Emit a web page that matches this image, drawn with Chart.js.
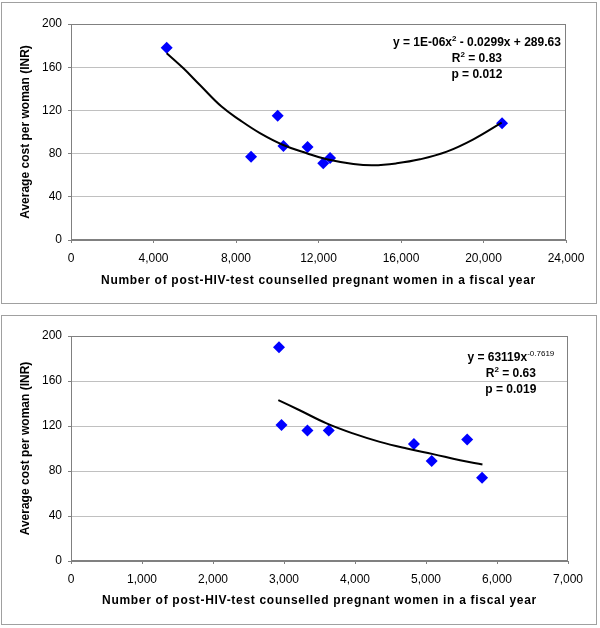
<!DOCTYPE html>
<html><head><meta charset="utf-8">
<script src="https://cdn.jsdelivr.net/npm/chart.js@4.4.1/dist/chart.umd.min.js"></script>
<style>
html,body{margin:0;padding:0;background:#fff;width:600px;height:628px;overflow:hidden;}
.wrap{position:absolute;left:0;width:600px;}
.box{position:absolute;border:1px solid #a0a0a0;box-sizing:border-box;pointer-events:none;}
</style></head><body>
<div class="wrap" style="top:0;height:310px"><canvas id="c1"></canvas></div>
<div class="wrap" style="top:310px;height:318px"><canvas id="c2"></canvas></div>
<div class="box" style="left:1px;top:2px;width:596px;height:302px"></div>
<div class="box" style="left:1px;top:315px;width:596px;height:310px"></div>
<script>
// ---- Data ----
const topX = [4640, 8730, 10020, 10300, 11470, 12230, 12560, 20900];
const topY = [178, 77, 115, 87, 86, 71, 76, 108];
const topTrendX = [4640, 5450, 6250, 7300, 8190, 9160, 10290, 11430, 12400, 13690, 14660, 15790, 16920, 18220, 19510, 20880];
const topTrendY = [173, 159, 143.5, 123.5, 111, 99, 88, 80.3, 74.7, 70.4, 69.2, 71, 74.7, 81.8, 93.2, 108.6];

const botX = [2930, 2965, 3330, 3630, 4830, 5080, 5580, 5790];
const botY = [190, 121, 116, 116, 104, 89, 108, 74];
const botTrendX = [2920, 3220, 3600, 3970, 4350, 4730, 5100, 5480, 5795];
const botTrendY = [143, 134, 122.3, 113.4, 105.9, 100, 95, 89.6, 85.8];

const topXTicks = [0, 4000, 8000, 12000, 16000, 20000, 24000];
const botXTicks = [0, 1000, 2000, 3000, 4000, 5000, 6000, 7000];
const yTicks = [0, 40, 80, 120, 160, 200];

const xTitle = 'Number of post-HIV-test counselled pregnant women in a fiscal year';
const yTitle = 'Average cost per woman (INR)';

const topEqn = [
  [['y = 1E-06x', 0], ['2', 1], [' - 0.0299x + 289.63', 0]],
  [['R', 0], ['2', 1], [' = 0.83', 0]],
  [['p = 0.012', 0]]
];
const botEqn = [
  [['y = 63119x', 0], ['-0.7619', 2]],
  [['R', 0], ['2', 1], [' = 0.63', 0]],
  [['p = 0.019', 0]]
];

// ---- Rendering ----
const FF = "'Liberation Sans', Arial, sans-serif";
const pts = (xs, ys) => xs.map((x, i) => ({x: x, y: ys[i]}));

const framePlugin = {
  id: 'frame',
  beforeDatasetsDraw(chart) {
    const a = chart.chartArea, c = chart.ctx;
    c.save();
    c.strokeStyle = '#808080';
    c.lineWidth = 1;
    c.strokeRect(Math.round(a.left) + 0.5, Math.round(a.top) + 0.5,
                 Math.round(a.right - a.left) - 1, Math.round(a.bottom - a.top) - 1);
    c.restore();
  }
};
const xTitlePlugin = {
  id: 'xtitle',
  afterDraw(chart, args, o) {
    if (!o || !o.text) return;
    const a = chart.chartArea, c = chart.ctx;
    c.save();
    c.font = 'bold 12px ' + FF;
    c.fillStyle = '#000';
    c.textBaseline = 'middle';
    c.textAlign = 'center';
    if ('letterSpacing' in c) c.letterSpacing = o.spacing + 'px';
    c.fillText(o.text, (a.left + a.right) / 2, a.bottom + o.dy);
    c.restore();
  }
};
const eqnPlugin = {
  id: 'eqn',
  afterDraw(chart, args, o) {
    if (!o || !o.lines) return;
    const a = chart.chartArea, c = chart.ctx;
    const cx = a.left + o.cx * (a.right - a.left);
    const fonts = ['bold 12px ' + FF, 'bold 8px ' + FF, '8px ' + FF];
    c.save();
    c.fillStyle = '#000';
    c.textBaseline = 'middle';
    c.textAlign = 'left';
    o.lines.forEach((segs, i) => {
      const y = a.top + o.y0 + i * o.dy;
      let w = 0;
      segs.forEach(s => { c.font = fonts[s[1]]; w += c.measureText(s[0]).width; });
      let x = cx - w / 2;
      segs.forEach(s => {
        c.font = fonts[s[1]];
        c.fillText(s[0], x, s[1] ? y - 4 : y);
        x += c.measureText(s[0]).width;
      });
    });
    c.restore();
  }
};

function makeChart(id, xs, ys, txs, tys, xTicks, xMax, pad, xAxisH, titleDy, eqn) {
  return new Chart(document.getElementById(id), {
    type: 'scatter',
    data: {
      datasets: [
        {
          data: pts(txs, tys), showLine: true, pointRadius: 0,
          borderColor: '#000', borderWidth: 2, tension: 0.4, fill: false
        },
        {
          data: pts(xs, ys), pointStyle: 'rectRot', pointRadius: 6,
          backgroundColor: '#0000ff', borderColor: '#0000ff', borderWidth: 0, showLine: false
        }
      ]
    },
    options: {
      responsive: true, maintainAspectRatio: false, animation: false,
      layout: { padding: pad },
      plugins: {
        legend: { display: false }, tooltip: { enabled: false },
        eqn: eqn,
        xtitle: { text: xTitle, dy: titleDy, spacing: 0.7 }
      },
      scales: {
        x: {
          type: 'linear', min: 0, max: xMax,
          afterBuildTicks: s => { s.ticks = xTicks.map(v => ({value: v})); },
          ticks: {
            color: '#000', font: { family: FF, size: 12 }, padding: 8,
            maxRotation: 0, autoSkip: false,
            callback: v => v.toLocaleString('en-US')
          },
          grid: { display: true, drawOnChartArea: false, drawTicks: true, tickLength: 3, tickColor: '#808080' },
          border: { display: true, color: '#808080' },
          title: { display: false },
          afterFit: s => { s.height = xAxisH; }
        },
        y: {
          type: 'linear', min: 0, max: 200,
          afterBuildTicks: s => { s.ticks = yTicks.map(v => ({value: v})); },
          ticks: { color: '#000', font: { family: FF, size: 12 }, padding: 6 },
          grid: { color: '#c0c0c0', drawTicks: true, tickLength: 3, tickColor: '#808080' },
          border: { display: true, color: '#808080' },
          title: {
            display: true, text: yTitle, color: '#000',
            font: { family: FF, size: 12, weight: 'bold' },
            padding: { top: 18, bottom: 0 }
          },
          afterFit: s => { s.width = 71; }
        }
      }
    },
    plugins: [framePlugin, xTitlePlugin, eqnPlugin]
  });
}

makeChart('c1', topX, topY, topTrendX, topTrendY, topXTicks, 24000,
  { left: 0, right: 34, top: 24, bottom: 0 }, 70, 40.5,
  { lines: topEqn, cx: 0.82, y0: 18.7, dy: 16.2 });
makeChart('c2', botX, botY, botTrendX, botTrendY, botXTicks, 7000,
  { left: 0, right: 32, top: 26, bottom: 0 }, 67, 40,
  { lines: botEqn, cx: 0.885, y0: 22, dy: 16 });
</script>
</body></html>
